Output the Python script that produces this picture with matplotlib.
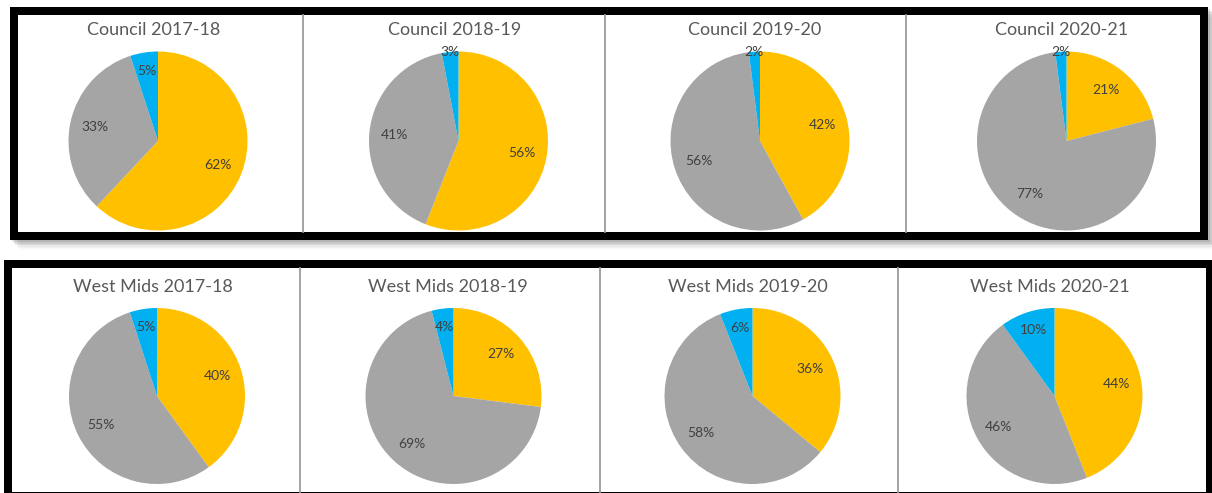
import matplotlib
matplotlib.use("Agg")
import matplotlib.pyplot as plt
import numpy as np
from matplotlib.patches import Rectangle

# ---------------- data ----------------
titles_council = ["Council 2017-18", "Council 2018-19", "Council 2019-20", "Council 2020-21"]
titles_wm = ["West Mids 2017-18", "West Mids 2018-19", "West Mids 2019-20", "West Mids 2020-21"]

# slice order (clockwise from 12 o'clock): yellow, grey, blue
council_yellow = [62, 56, 42, 21]
council_grey = [33, 41, 56, 77]
council_blue = [5, 3, 2, 2]

wm_yellow = [40, 27, 36, 44]
wm_grey = [55, 69, 58, 46]
wm_blue = [5, 4, 6, 10]

colors = ["#FFC000", "#A5A5A5", "#00B0F0"]

# ---------------- layout (pixels) ----------------
W, H = 1212, 493
fig = plt.figure(figsize=(W / 100, H / 100), dpi=100)
fig.patch.set_facecolor("white")

ov = fig.add_axes([0, 0, 1, 1])
ov.set_xlim(0, W)
ov.set_ylim(H, 0)
ov.axis("off")

def box(x0, y0, x1, y1, t, shadow=True):
    if shadow:
        for i, a in enumerate([0.10, 0.08, 0.06, 0.04, 0.03, 0.02]):
            d = 2 + i * 1.5
            ov.add_patch(Rectangle((x0 + d, y0 + d), x1 - x0, y1 - y0,
                                   facecolor="#000000", alpha=a, lw=0, zorder=1))
    ov.add_patch(Rectangle((x0, y0), x1 - x0, y1 - y0, facecolor="black", lw=0, zorder=2))
    ov.add_patch(Rectangle((x0 + t, y0 + t), x1 - x0 - 2 * t, y1 - y0 - 2 * t,
                           facecolor="white", lw=0, zorder=3))

box(10, 7, 1208, 240, 8)
box(4, 260, 1214, 500, 8, shadow=False)

# dividers
for x in [303, 605, 906]:
    ov.plot([x, x], [15, 232], color="#9C9C9C", lw=1.3, zorder=4)
for x in [300, 600, 898]:
    ov.plot([x, x], [268, 492], color="#9C9C9C", lw=1.3, zorder=4)

title_font = "Lato"

def draw_pie(cx, cy, r, vals, title, tx, ty):
    ax = fig.add_axes([(cx - r) / W, 1 - (cy + r) / H, 2 * r / W, 2 * r / H])
    wedges, texts, autotexts = ax.pie(
        vals, colors=colors, startangle=90, counterclock=False,
        wedgeprops=dict(linewidth=0), autopct="%d%%", pctdistance=0.72,
        textprops=dict(color="#404040", fontsize=10, family=title_font))
    for w, t, v in zip(wedges, autotexts, vals):
        ang = np.deg2rad((w.theta1 + w.theta2) / 2)
        if v <= 3:
            d = 1.0
        elif v <= 10:
            d = 0.79
        else:
            d = 0.72
        t.set_position((d * np.cos(ang), d * np.sin(ang)))
    ax.set_xlim(-1, 1)
    ax.set_ylim(-1, 1)
    ax.set_aspect("equal")
    ax.axis("off")
    ov.text(tx, ty, title, ha="center", va="center", fontsize=13,
            color="#595959", family=title_font, zorder=5)

top_cx = [158, 458.5, 760, 1066.5]
top_title_x = [154, 455, 755, 1062]
for i in range(4):
    draw_pie(top_cx[i], 141, 89.5,
             [council_yellow[i], council_grey[i], council_blue[i]],
             titles_council[i], top_title_x[i], 30)

bot_cx = [157, 453.5, 752.5, 1054.5]
bot_title_x = [153, 448, 748, 1050]
for i in range(4):
    draw_pie(bot_cx[i], 396, 88,
             [wm_yellow[i], wm_grey[i], wm_blue[i]],
             titles_wm[i], bot_title_x[i], 287)

fig.savefig("out.png", dpi=100)
